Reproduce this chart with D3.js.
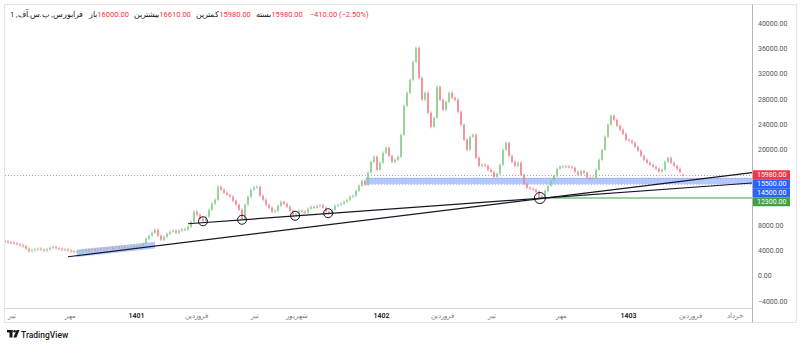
<!DOCTYPE html>
<html><head><meta charset="utf-8">
<script src="https://cdn.jsdelivr.net/npm/d3@7"></script>
<style>
html,body{margin:0;padding:0;background:#fff;}
svg{display:block;font-family:Roboto,"Noto Sans",sans-serif;}
</style></head><body>
<svg id="c" width="800" height="346"></svg>
<script>
// ---------- data ----------
const closes = [
5430,5300,5220,5140,4980,4830,4670,4270,3880,4030,
4190,4270,4110,3960,4190,4430,4540,4350,4270,4110,
4190,4000,3880,3800,3880,3960,4030,4110,4030,4190,
4110,4270,4190,4350,4320,4430,4350,4510,4430,4590,
4510,4540,4670,4590,4670,4750,5060,5850,6330,6800,
7280,6330,5700,6170,6640,6960,7120,6800,7120,7360,
7280,7750,8540,10130,9650,9020,8620,9330,10440,11390,
12020,14080,13610,13130,12810,12500,11870,11230,10440,9020,
11230,12500,13610,14000,14080,12660,12020,11230,10760,10130,
10280,11070,11710,11390,10920,10280,9650,9810,10280,10130,
9970,10600,10920,10760,11070,11150,10760,10130,9890,10440,
11070,11230,11390,11710,12020,12500,12660,13450,14240,15030,
14400,16300,18030,18830,16770,17880,19460,20250,18980,18030,
18350,18830,22310,26890,28950,31010,33850,36070,31320,27840,
28950,25790,23570,25000,29900,27840,26260,27530,28950,28160,
27840,25950,23890,21520,19930,21990,22310,18670,17400,17560,
17400,16770,16450,15660,16140,17560,19930,21040,18980,18030,
17400,17880,15980,14550,13920,13760,13610,13290,12300,12660,
13450,14240,15030,15820,16930,17290,17320,17290,17240,17090,
16450,15980,16610,16300,15500,15350,15500,16770,18350,19930,
21990,23890,25310,24680,23730,23100,22460,21520,21360,21040,
20410,19780,18980,18350,17880,17560,17240,16930,16450,16770,
18030,18670,17880,17400,16930,16390,15980
];
const firstOpen = 5480;
const lastOpen = 16000;

const yTicks = [-4000,0,4000,8000,12000,16000,20000,24000,28000,32000,36000,40000];
const xTickIdx = [2, 21.7, 43.7, 63.7, 83, 97, 125.3, 145.7, 162.3, 185.3, 207.7, 228.3, 243];
const xTickLabels = ["تیر","مهر","1401","فروردین","تیر","شهریور","1402","فروردین","تیر","مهر","1403","فروردین","خرداد"];
const yearLabels = ["1401","1402","1403"];

const lastPrice = 15980;
const zoneTop = 15500, zoneBottom = 14500, zoneStartIdx = 120.3;
const supportPrice = 12300, supportStartIdx = 178.3;
const trend1 = [[21, 3000],[249, 16310]];
const trend2 = [[61, 8230],[249, 14680]];
const touchPoints = [[66, 8620],[79, 8860],[96.7, 9490],[107.7, 9890]];
const keyPoint = [178.3, 12300];
const lowBand = [[24, 4110],[50, 5380],[50, 4320],[24, 2960]];

const legendName = "فرابورس, پ.س.آف, 1";
const legendItems = [["باز","16000.00"],["بیشترین","16610.00"],["کمترین","15980.00"],["بسته","15980.00"]];
const legendChange = "−410.00 (−2.50%)";

// ---------- setup ----------
const svg = d3.select("#c");
const L = 5, R = 752, T = 5, B = 308;
const x = d3.scaleLinear().domain([0, 249]).range([5, 752]);
const y = d3.scaleLinear().domain([-4000, 40000]).range([301, 23]);

const RED = "#f23645", BLUE = "#2962ff", GREEN = "#43a047";

// frame
svg.append("rect").attr("x",4.5).attr("y",4.5).attr("width",792).attr("height",318)
  .attr("fill","none").attr("stroke","#e0e3eb");
svg.append("line").attr("x1",4.5).attr("x2",752.5).attr("y1",308.5).attr("y2",308.5).attr("stroke","#d1d4dc");
svg.append("line").attr("x1",752.5).attr("x2",752.5).attr("y1",4.5).attr("y2",322.5).attr("stroke","#b2b5be");

svg.append("defs").append("clipPath").attr("id","plot")
  .append("rect").attr("x",L).attr("y",T).attr("width",R-L).attr("height",B-T);
const plot = svg.append("g").attr("clip-path","url(#plot)");

// low band (rotated rectangle)
plot.append("polygon")
  .attr("points", lowBand.map(d => [x(d[0]), y(d[1])].join(",")).join(" "))
  .attr("fill", BLUE).attr("fill-opacity", 0.35);

// zone
plot.append("rect").attr("x", x(zoneStartIdx)).attr("y", y(zoneTop))
  .attr("width", R - x(zoneStartIdx)).attr("height", y(zoneBottom) - y(zoneTop))
  .attr("fill", BLUE).attr("fill-opacity", 0.35);
[zoneTop, zoneBottom].forEach(p => {
  plot.append("line").attr("x1", x(zoneStartIdx)).attr("x2", R)
    .attr("y1", Math.round(y(p))+0.5).attr("y2", Math.round(y(p))+0.5)
    .attr("stroke", BLUE).attr("stroke-opacity",0.4).attr("stroke-dasharray","1,2");
});

// last price dotted line
plot.append("line").attr("x1", L).attr("x2", R)
  .attr("y1", Math.round(y(lastPrice))+0.5).attr("y2", Math.round(y(lastPrice))+0.5)
  .attr("stroke", RED).attr("stroke-opacity",0.6).attr("stroke-dasharray","1,2");

// support line
plot.append("line").attr("x1", x(supportStartIdx)).attr("x2", R)
  .attr("y1", y(supportPrice)).attr("y2", y(supportPrice))
  .attr("stroke", GREEN).attr("stroke-width", 1);

// candles
const candles = closes.map((c, i) => {
  const o = i === 0 ? firstOpen : (i === closes.length - 1 ? lastOpen : closes[i-1]);
  return {i, o, c};
});
const cg = plot.append("g");
candles.forEach(d => {
  const up = d.c >= d.o;
  const col = up ? "#8acb8c" : "#ef8591";
  const y1 = Math.min(y(d.o), y(d.c)), y2 = Math.max(y(d.o), y(d.c));
  const cx = x(d.i);
  cg.append("line").attr("x1", cx).attr("x2", cx).attr("y1", y1 - 1.5).attr("y2", y2 + 1.5)
    .attr("stroke", col).attr("stroke-width", 0.7);
  cg.append("rect").attr("x", cx - 0.8).attr("y", y1).attr("width", 1.6).attr("height", Math.max(1, y2 - y1))
    .attr("fill", col);
});

// trend lines
[trend1, trend2].forEach(t => {
  plot.append("line").attr("x1", x(t[0][0])).attr("y1", y(t[0][1]))
    .attr("x2", x(t[1][0])).attr("y2", y(t[1][1]))
    .attr("stroke", "#131722").attr("stroke-width", 1.2);
});
touchPoints.forEach(p => {
  plot.append("circle").attr("cx", x(p[0])).attr("cy", y(p[1])).attr("r", 4.5)
    .attr("fill","none").attr("stroke","#131722").attr("stroke-width",1);
});
plot.append("circle").attr("cx", x(keyPoint[0])).attr("cy", y(keyPoint[1])).attr("r", 5.5)
  .attr("fill","none").attr("stroke","#131722").attr("stroke-width",1);

// y axis
const gy = svg.append("g").attr("transform","translate(752,0)")
  .call(d3.axisRight(y).tickValues(yTicks).tickFormat(d3.format(".2f")).tickSize(0).tickPadding(6));
gy.select(".domain").remove();
gy.selectAll("text").attr("font-size", 7).attr("fill", "#555").attr("font-family","Roboto,sans-serif");

// x axis
const gx = svg.append("g").attr("transform","translate(0,308)")
  .call(d3.axisBottom(x).tickValues(xTickIdx).tickFormat((d,i) => xTickLabels[i]).tickSize(0).tickPadding(5));
gx.select(".domain").remove();
gx.selectAll("text").attr("font-size", 7)
  .attr("fill", (d,i) => yearLabels.includes(xTickLabels[i]) ? "#131722" : "#787b86")
  .attr("font-weight", (d,i) => yearLabels.includes(xTickLabels[i]) ? 600 : 400)
  .attr("font-family","Roboto,'Noto Sans',sans-serif");

// price labels on axis
const priceLabels = [[lastPrice, RED],[zoneTop, BLUE],[zoneBottom, BLUE],[supportPrice, GREEN]];
const H = 9;
let prevBottom = -Infinity;
priceLabels.forEach(([p, col]) => {
  let top = y(p) - H/2;
  if (top < prevBottom) top = prevBottom;
  prevBottom = top + H;
  svg.append("rect").attr("x", 753).attr("y", top).attr("width", 37).attr("height", H).attr("fill", col);
  svg.append("text").attr("x", 757).attr("y", top + H/2).attr("dy","0.34em")
    .attr("font-size", 7).attr("fill", "#fff").text(d3.format(".2f")(p));
});

// legend
const lg = svg.append("g");
const nameT = lg.append("text").attr("x", 10).attr("y", 16.5).attr("font-size", 7.5)
  .attr("fill", "#131722").attr("direction","rtl").attr("text-anchor","end")
  .style("unicode-bidi","embed").text(legendName);
const nameW = nameT.node().getComputedTextLength();
let lx = Math.max(80, 10 + nameW + 6);
legendItems.forEach(([w, v]) => {
  const t1 = lg.append("text").attr("x", lx).attr("y", 16.5).attr("font-size", 7.5).attr("fill","#131722").text(w);
  lx += t1.node().getComputedTextLength() + 0.5;
  const t2 = lg.append("text").attr("x", lx).attr("y", 16.5).attr("font-size", 7.5).attr("fill", RED).text(v);
  lx += t2.node().getComputedTextLength() + 5;
});
lg.append("text").attr("x", lx + 2).attr("y", 16.5).attr("font-size", 7.5).attr("fill", RED).text(legendChange);

// TradingView logo
const logo = svg.append("g").attr("fill","#131722");
logo.append("rect").attr("x",7).attr("y",330).attr("width",5.5).attr("height",2.5);
logo.append("rect").attr("x",9.5).attr("y",330).attr("width",3).attr("height",7.5);
logo.append("circle").attr("cx",14.6).attr("cy",331.3).attr("r",1.3);
logo.append("polygon").attr("points","16.6,330 19.5,330 16.4,337.5 13.4,337.5");
svg.append("text").attr("x",21).attr("y",337.5).attr("font-size",8.5).attr("fill","#131722")
  .attr("font-weight",500).text("TradingView");
</script>
</body></html>
